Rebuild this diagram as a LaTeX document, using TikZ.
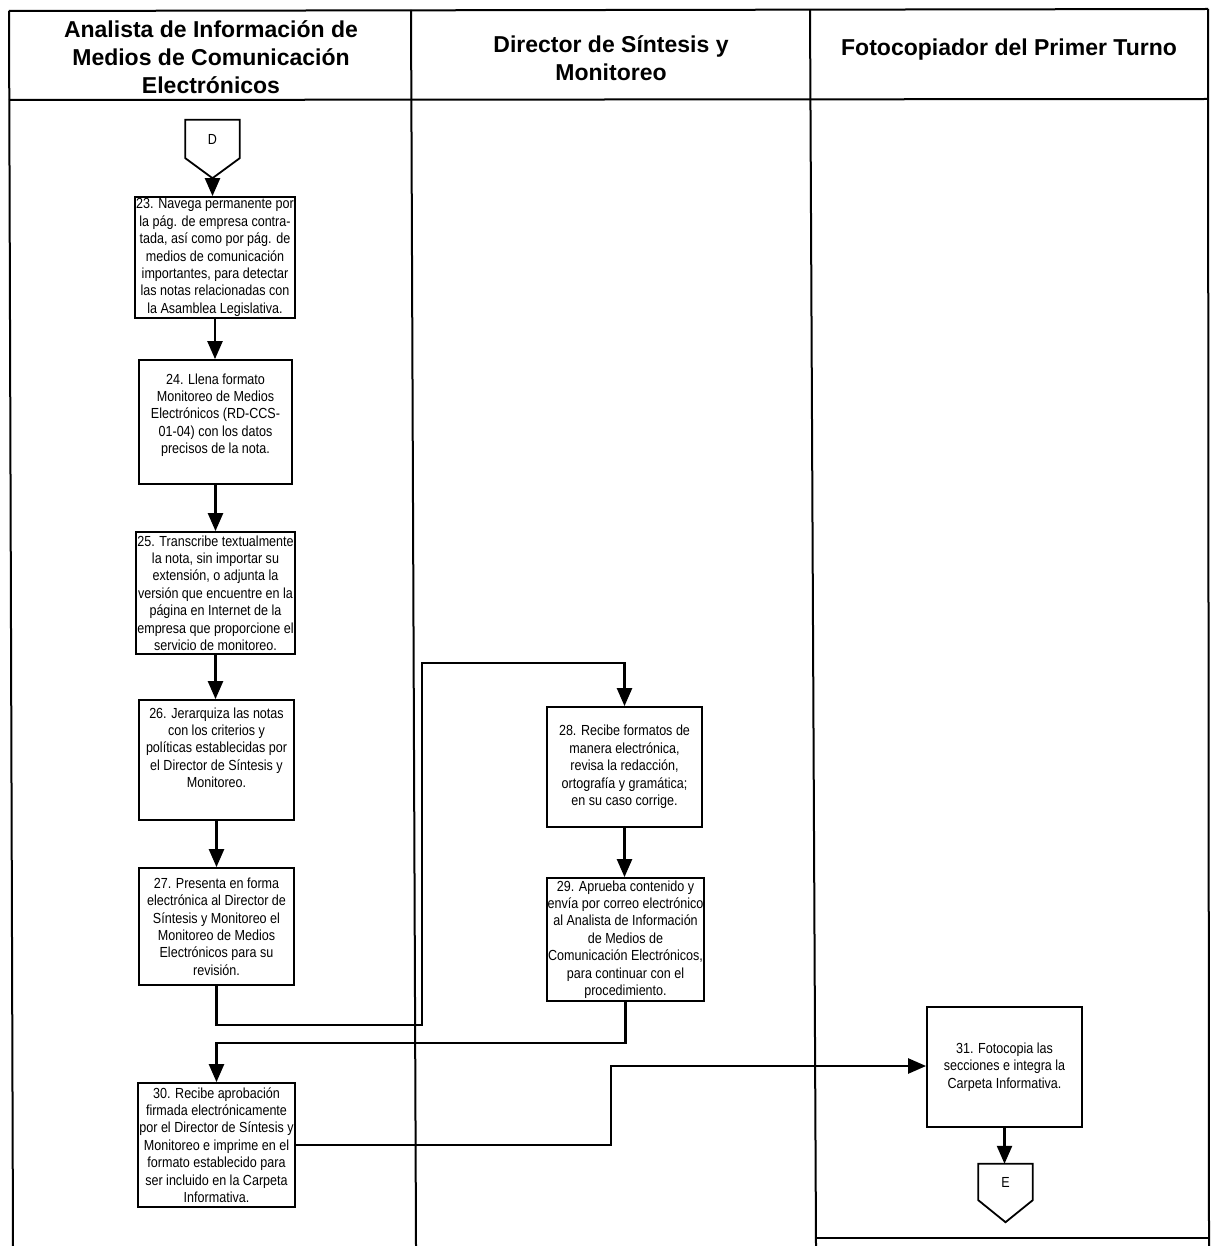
\documentclass[tikz,border=0pt]{standalone}
\usepackage{fontspec}
\setmainfont{Liberation Sans}
\newfontfamily\narrowfont[FakeStretch=0.86]{Liberation Sans}
\usetikzlibrary{arrows.meta}
\begin{document}
\begin{tikzpicture}[x=1pt,y=-1pt,
  tbl/.style={line width=2pt},
  hdr/.style={align=center,font=\bfseries\fontsize{23}{28}\selectfont},
  box/.style={draw,line width=1.8pt,inner sep=1pt,align=center,
    font=\narrowfont\fontsize{14.6}{17.4}\selectfont},
  conn/.style={minimum width=54pt,minimum height=36pt,inner sep=0pt,
    font=\narrowfont\fontsize{14.6}{17.4}\selectfont},
  connline/.style={draw,line width=1.8pt,line join=miter},
  arr/.style={line width=2.4pt,-{Triangle[length=18pt,width=15pt]}}]
\useasboundingbox (0,0) rectangle (1211,1246);
% table
\draw[tbl] (9,11) -- (1208,9);
\draw[tbl] (9,100) -- (1208,99);
\draw[tbl] (9,11) -- (13,1246);
\draw[tbl] (411,10) -- (416,1246);
\draw[tbl] (810,10) -- (816,1246);
\draw[tbl] (1208,9) -- (1209,1246);
\draw[tbl] (816,1238) -- (1209,1238);
% headers
\node[hdr] (h1) at (211,57) {Analista de Información de\\Medios de Comunicación\\Electrónicos};
\node[hdr] (h2) at (611,58) {Director de Síntesis y\\Monitoreo};
\node[hdr] (h3) at (1009,50) {Fotocopiador del Primer Turno};
% off-page connector D
\node[conn,minimum height=38pt] (D) at (212.5,139) {D};
\coordinate (Dtip) at ([yshift=-20pt]D.south);
\path[connline] (D.north west) -- (D.north east) -- (D.south east) -- (Dtip) -- (D.south west) -- cycle;
% boxes
\node[box,minimum width=156pt,minimum height=121pt] (n23) at (215,257.5)
 {23. Navega permanente por\\la pág. de empresa contra-\\tada, así como por pág. de\\medios de comunicación\\importantes, para detectar\\las notas relacionadas con\\la Asamblea Legislativa.};
\node[box,minimum width=153pt,minimum height=124pt] (n24) at (215.5,422)
 {24. Llena formato\\Monitoreo de Medios\\Electrónicos (RD-CCS-\\01-04) con los datos\\precisos de la nota.\\[-6pt]\strut};
\node[box,minimum width=157pt,minimum height=122pt] (n25) at (215.5,593)
 {25. Transcribe textualmente\\la nota, sin importar su\\extensión, o adjunta la\\versión que encuentre en la\\página en Internet de la\\empresa que proporcione el\\servicio de monitoreo.};
\node[box,minimum width=155pt,minimum height=120pt] (n26) at (216.5,760)
 {26. Jerarquiza las notas\\con los criterios y\\políticas establecidas por\\el Director de Síntesis y\\Monitoreo.\\[2pt]\strut};
\node[box,minimum width=155pt,minimum height=117pt] (n27) at (216.5,926.5)
 {27. Presenta en forma\\electrónica al Director de\\Síntesis y Monitoreo el\\Monitoreo de Medios\\Electrónicos para su\\revisión.};
\node[box,minimum width=155pt,minimum height=120pt] (n28) at (624.5,767)
 {28. Recibe formatos de\\manera electrónica,\\revisa la redacción,\\ortografía y gramática;\\en su caso corrige.};
\node[box,minimum width=155pt,minimum height=123pt] (n29) at (625.5,939.5)
 {29. Aprueba contenido y\\envía por correo electrónico\\al Analista de Información\\de Medios de\\Comunicación Electrónicos,\\para continuar con el\\procedimiento.};
\node[box,minimum width=155pt,minimum height=124pt] (n30) at (216.5,1145)
 {30. Recibe aprobación\\firmada electrónicamente\\por el Director de Síntesis y\\Monitoreo e imprime en el\\formato establecido para\\ser incluido en la Carpeta\\Informativa.};
\node[box,minimum width=155pt,minimum height=120pt] (n31) at (1004.5,1067)
 {31. Fotocopia las\\secciones e integra la\\Carpeta Informativa.};
% off-page connector E
\node[conn,minimum height=36pt] (E) at (1005.5,1182) {E};
\coordinate (Etip) at ([yshift=-22pt]E.south);
\path[connline] (E.north west) -- (E.north east) -- (E.south east) -- (Etip) -- (E.south west) -- cycle;
% connectors
\coordinate (c1) at (422,1025);
\coordinate (c2) at (422,663);
\coordinate (c3) at (216.5,1043);
\coordinate (c4) at (611,1066);
\draw[arr] (Dtip) -- (Dtip |- n23.north);
\draw[arr] (n23.south) -- (n23.south |- n24.north);
\draw[arr] (n24.south) -- (n24.south |- n25.north);
\draw[arr] (n25.south) -- (n25.south |- n26.north);
\draw[arr] (n26.south) -- (n26.south |- n27.north);
\draw[arr] (n27.south) |- (c1) -- (c2) -| (n28.north);
\draw[arr] (n28.south) -- (n28.south |- n29.north);
\draw[arr] (n29.south) |- (c3) -- (n30.north);
\draw[arr] (n30.east) -| (c4) -- (n31.west |- c4);
\draw[arr] (n31.south) -- (n31.south |- E.north);
\end{tikzpicture}
\end{document}
